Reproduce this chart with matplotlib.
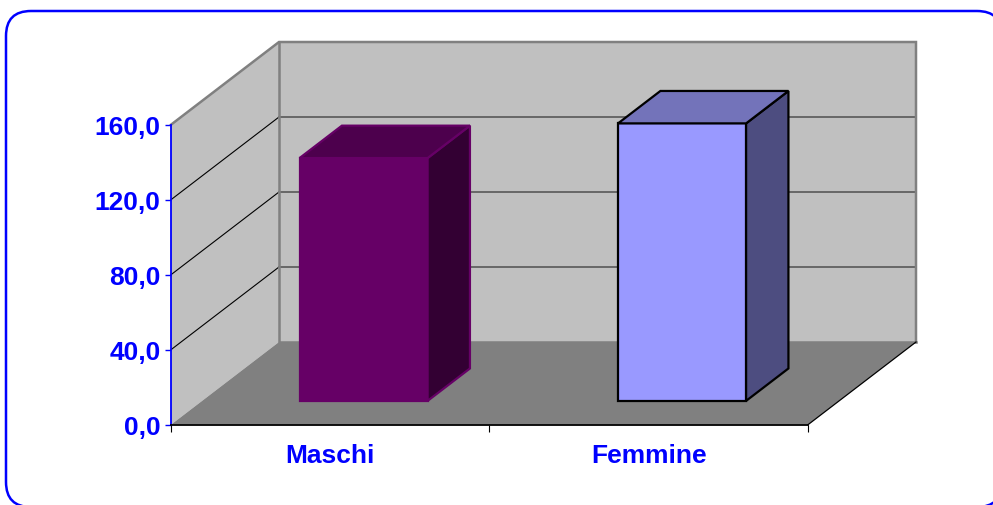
import matplotlib
matplotlib.use("Agg")
import matplotlib.pyplot as plt
from matplotlib.patches import FancyBboxPatch, Polygon
from matplotlib.transforms import Affine2D

categories = ["Maschi", "Femmine"]
values = [129.5, 148.0]
y_ticks = [0, 40, 80, 120, 160]
y_labels = ["0,0", "40,0", "80,0", "120,0", "160,0"]

front_colors = ["#660066", "#9999FF"]
side_colors = ["#330033", "#4D4D80"]
top_colors = ["#4D004D", "#7373BA"]
edge_colors = ["#660066", "#000000"]

BLUE = "#0000FF"
W, H = 993, 506
# pixels per unit, and where the front corner of the floor sits
X_PX, Y_PX = 318.5, 1.875
X0, Y0 = 171, 425.7
DX, DY = 108 / X_PX, 82.7 / Y_PX  # full depth of the box in data units


def proj(x, v, d):
    return (x + d * DX, v + d * DY)


def face(ax, pts, fc, ec="none", lw=0, z=1):
    ax.add_patch(Polygon(pts, closed=True, facecolor=fc, edgecolor=ec, linewidth=lw,
                         joinstyle="miter", zorder=z))


plt.rcParams["font.family"] = ["Liberation Sans", "DejaVu Sans"]
fig = plt.figure(figsize=(W / 100, H / 100), dpi=100)
ax = fig.add_axes([0, 0, 1, 1])
ax.set_xlim(-X0 / X_PX, (W - X0) / X_PX)
ax.set_ylim(-(H - Y0) / Y_PX, Y0 / Y_PX)
ax.patch.set_visible(False)

# outer rounded frame, runs off the right and bottom of the picture
frame = FancyBboxPatch((6, 12), 996, 496, boxstyle="round,pad=0,rounding_size=25",
                       facecolor="white", edgecolor=BLUE, linewidth=1.8,
                       transform=Affine2D().scale(1, -1).translate(0, H), zorder=0)
fig.add_artist(frame)

top = y_ticks[-1]
n = len(categories)

# walls and floor
face(ax, [proj(0, 0, 0), proj(0, top, 0), proj(0, top, 1), proj(0, 0, 1)], "#C0C0C0", z=1)
face(ax, [proj(0, 0, 1), proj(0, top, 1), proj(n, top, 1), proj(n, 0, 1)], "#C0C0C0", z=1)
face(ax, [proj(0, 0, 0), proj(n, 0, 0), proj(n, 0, 1), proj(0, 0, 1)], "#808080", z=1)

for t in y_ticks[1:-1]:
    a, b, c = proj(0, t, 0), proj(0, t, 1), proj(n, t, 1)
    ax.plot([a[0], b[0]], [a[1], b[1]], color="black", lw=0.8, zorder=2)
    ax.plot([b[0], c[0]], [b[1], c[1]], color="#606060", lw=1.3, zorder=2)

# wall outlines
outline = [proj(0, top, 0), proj(0, top, 1), proj(n, top, 1), proj(n, 0, 1)]
ax.plot([p[0] for p in outline], [p[1] for p in outline], color="#808080", lw=1.8, zorder=3,
        solid_joinstyle="miter")
back_l = [proj(0, top, 1), proj(0, 0, 1), proj(n, 0, 1)]
ax.plot([p[0] for p in back_l], [p[1] for p in back_l], color="#808080", lw=1.8, zorder=2,
        solid_joinstyle="miter")
# floor edge on the right
a, b = proj(n, 0, 0), proj(n, 0, 1)
ax.plot([a[0], b[0]], [a[1], b[1]], color="black", lw=0.9, zorder=3)

# bars
bar_w = 0.402
d0, d1 = 0.288, 0.68
for i, val in enumerate(values):
    l = i + 0.507 - bar_w / 2
    r = l + bar_w
    ec = edge_colors[i]
    lw = 1.6
    face(ax, [proj(l, 0, d0), proj(r, 0, d0), proj(r, val, d0), proj(l, val, d0)],
         front_colors[i], ec, lw, z=5)
    face(ax, [proj(r, 0, d0), proj(r, 0, d1), proj(r, val, d1), proj(r, val, d0)],
         side_colors[i], ec, lw, z=5)
    face(ax, [proj(l, val, d0), proj(r, val, d0), proj(r, val, d1), proj(l, val, d1)],
         top_colors[i], ec, lw, z=5)

# axes
for s in ["top", "right"]:
    ax.spines[s].set_visible(False)
ax.spines["left"].set_position(("data", 0))
ax.spines["left"].set_bounds(0, top)
ax.spines["left"].set_color(BLUE)
ax.spines["left"].set_linewidth(1.3)
ax.spines["bottom"].set_position(("data", 0))
ax.spines["bottom"].set_bounds(0, n)
ax.spines["bottom"].set_color("black")
ax.spines["bottom"].set_linewidth(1.3)
ax.spines["left"].set_zorder(6)
ax.spines["bottom"].set_zorder(6)

ax.set_yticks(y_ticks)
ax.set_yticklabels(y_labels, fontsize=19, fontweight="bold", color=BLUE)
ax.tick_params(axis="y", length=4.5, width=1, color=BLUE, pad=3)

ax.set_xticks(range(n + 1))
ax.set_xticklabels([])
ax.tick_params(axis="x", which="major", length=5, width=0.8, color="black")
ax.set_xticks([i + 0.5 for i in range(n)], minor=True)
ax.set_xticklabels(categories, minor=True, fontsize=19, fontweight="bold", color=BLUE)
ax.tick_params(axis="x", which="minor", length=0, pad=13)

fig.savefig("out.png", dpi=100)
